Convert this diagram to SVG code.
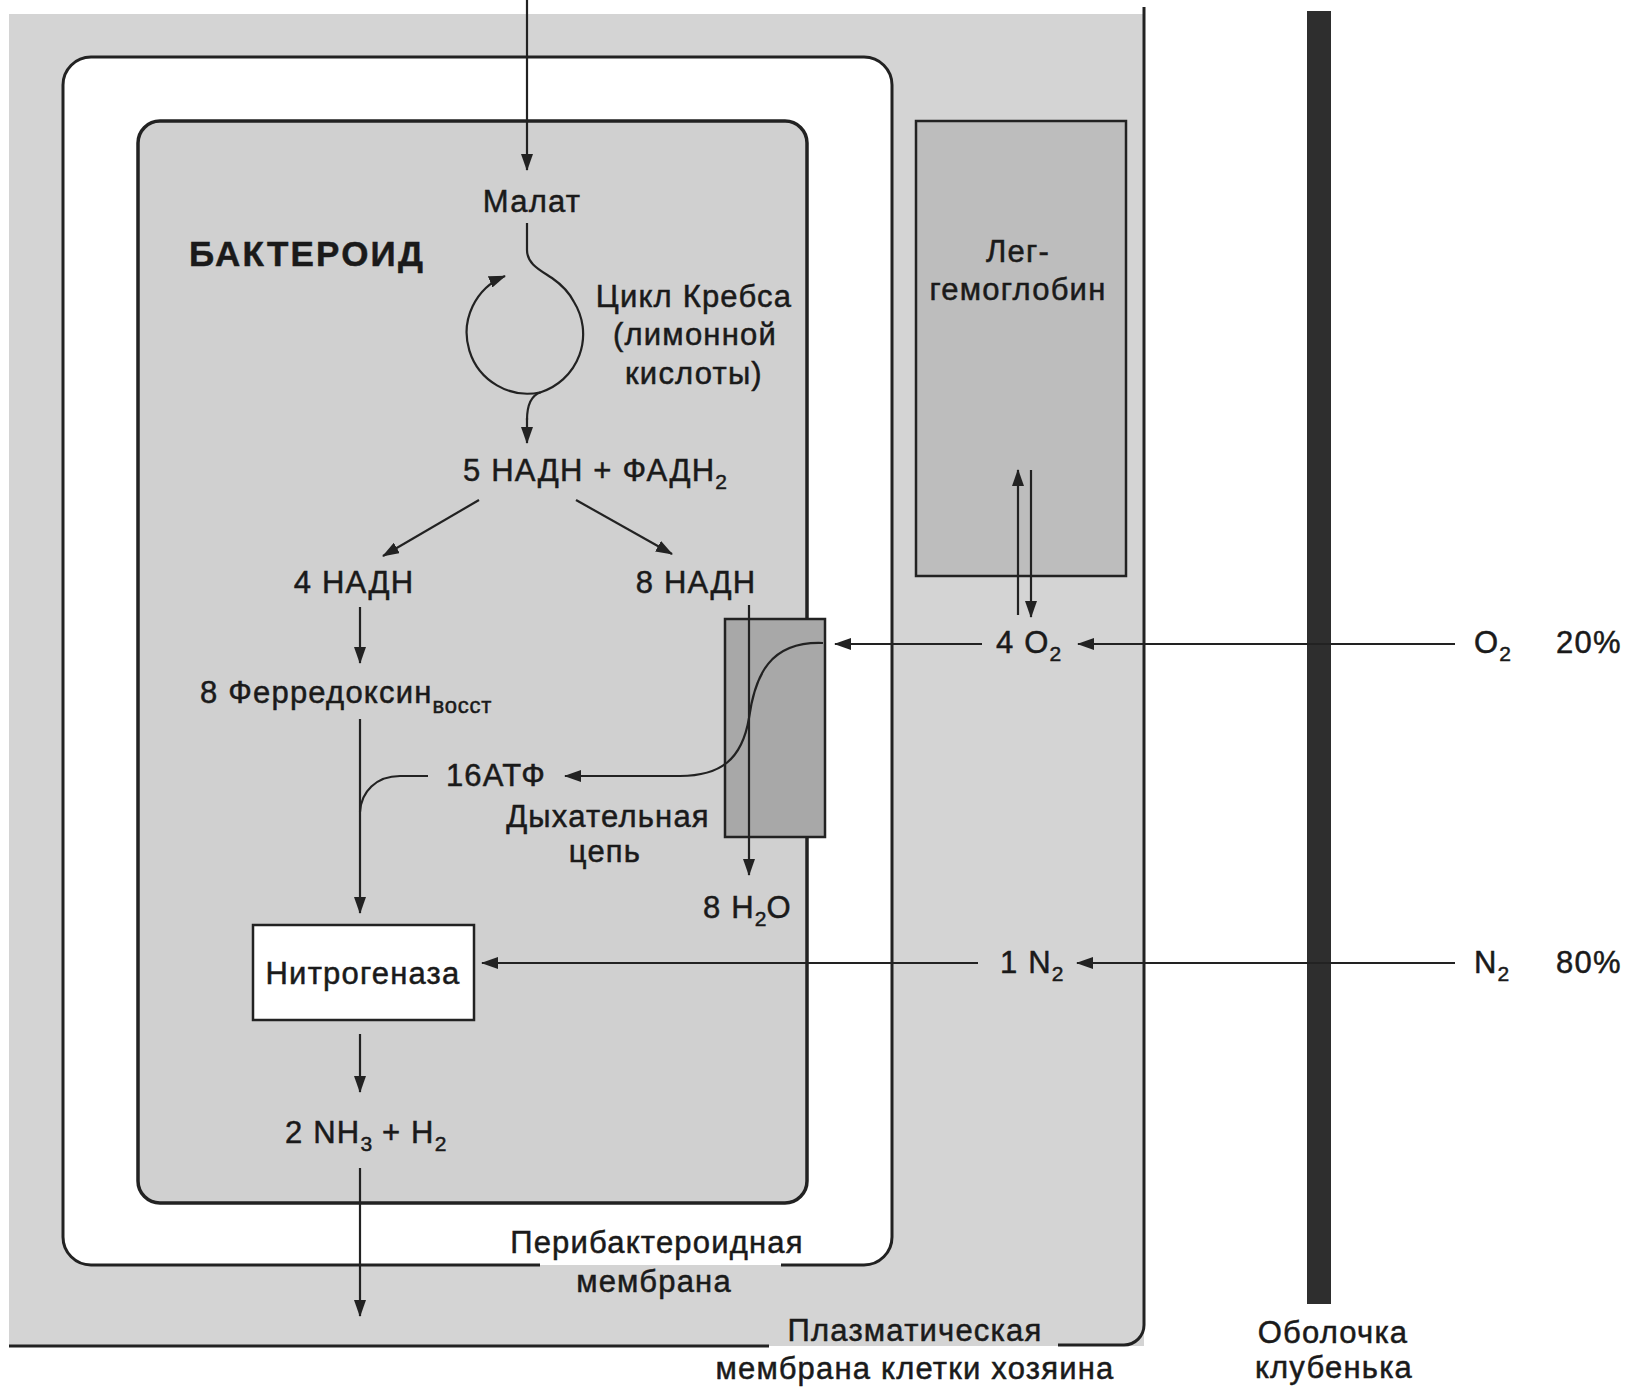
<svg xmlns="http://www.w3.org/2000/svg" width="1627" height="1391" viewBox="0 0 1627 1391">
<defs>
<style>
text{font-family:"Liberation Sans",Arial,sans-serif;font-size:31px;fill:#1a1a1a;stroke:#1a1a1a;stroke-width:0.5px;letter-spacing:1.2px}
.m{text-anchor:middle}
.b{font-weight:bold;font-size:35px;letter-spacing:2.2px}
.sub{font-size:21px;letter-spacing:0}
.vs{font-size:22px;letter-spacing:0.8px}
.ln{fill:none;stroke:#222;stroke-width:2.2}
.ar{fill:none;stroke:#222;stroke-width:2.2;marker-end:url(#ah)}
.box{stroke:#222;stroke-width:2.5}
</style>
<marker id="ah" markerUnits="userSpaceOnUse" markerWidth="17" markerHeight="12" viewBox="0 0 17 12" refX="16" refY="6" orient="auto">
<path d="M0,0 L17,6 L0,12 Z" fill="#222"/>
</marker>
</defs>
<rect width="1627" height="1391" fill="#ffffff"/>

<g id="host-cell">
<rect x="9" y="14" width="1135" height="1332" fill="#d4d4d4"/>
<path class="ln" d="M1144 7 V1325 A20 20 0 0 1 1124 1345 H1058" style="stroke-width:3"/>
<path class="ln" d="M769 1346 H9" style="stroke-width:3"/>
<text class="m" x="915" y="1341">Плазматическая</text>
<text class="m" x="915" y="1379">мембрана клетки хозяина</text>
</g>

<g id="peribacteroid">
<rect x="63" y="57" width="829" height="1208" rx="28" fill="#ffffff"/>
<path class="ln" style="stroke-width:3" d="M540 1265 H91 A28 28 0 0 1 63 1237 V85 A28 28 0 0 1 91 57 H864 A28 28 0 0 1 892 85 V1237 A28 28 0 0 1 864 1265 H781"/>
<text class="m" x="657" y="1253">Перибактероидная</text>
<text class="m" x="654" y="1292">мембрана</text>
</g>

<g id="bacteroid">
<rect x="138" y="121" width="669" height="1082" rx="22" fill="#d0d0d0" stroke="#222" stroke-width="3.5"/>
<text class="b" x="189" y="266">БАКТЕРОИД</text>
</g>

<g id="leghemoglobin">
<rect class="box" x="916" y="121" width="210" height="455" fill="#bdbdbd"/>
<text class="m" x="1018" y="262">Лег-</text>
<text class="m" x="1018" y="300">гемоглобин</text>
</g>

<g id="respiratory-chain">
<rect class="box" x="725" y="619" width="100" height="218" fill="#a8a8a8"/>
<text class="m" x="608" y="827">Дыхательная</text>
<text class="m" x="605" y="862">цепь</text>
</g>

<g id="nitrogenase">
<rect class="box" x="253" y="925" width="221" height="95" fill="#ffffff"/>
<text class="m" x="363" y="984">Нитрогеназа</text>
</g>

<g id="nodule-shell">
<rect x="1307" y="11" width="24" height="1293" fill="#2e2e2e"/>
<text class="m" x="1333" y="1343">Оболочка</text>
<text class="m" x="1334" y="1378">клубенька</text>
</g>

<g id="labels">
<text class="m" x="532" y="212">Малат</text>
<text class="m" x="694" y="307">Цикл Кребса</text>
<text class="m" x="695" y="345">(лимонной</text>
<text class="m" x="694" y="384">кислоты)</text>
<text x="463" y="481">5 НАДН + ФАДН<tspan class="sub" dy="8">2</tspan></text>
<text class="m" x="354" y="593">4 НАДН</text>
<text class="m" x="696" y="593">8 НАДН</text>
<text x="200" y="703">8 Ферредоксин<tspan class="vs" dy="10">восст</tspan></text>
<text class="m" x="496" y="786">16АТФ</text>
<text x="703" y="918">8 H<tspan class="sub" dy="8">2</tspan><tspan dy="-8">O</tspan></text>
<text x="285" y="1143">2 NH<tspan class="sub" dy="8">3</tspan><tspan dy="-8"> + H</tspan><tspan class="sub" dy="8">2</tspan></text>
<text x="996" y="653">4 O<tspan class="sub" dy="8">2</tspan></text>
<text x="1000" y="973">1 N<tspan class="sub" dy="8">2</tspan></text>
<text x="1474" y="653">O<tspan class="sub" dy="8">2</tspan></text>
<text x="1556" y="653">20%</text>
<text x="1474" y="973">N<tspan class="sub" dy="8">2</tspan></text>
<text x="1556" y="973">80%</text>
</g>

<g id="connectors">
<path class="ar" d="M527 0 V170"/>
<path class="ln" d="M527 223 V250 C527 264 540 270 552 278 C562 285 569 292 574 302 A61 61 0 0 1 540.8 392.2 C532 395 527 405 527 420"/>
<path class="ar" d="M527 418 V443"/>
<path class="ar" d="M540.8 392.2 A61 61 0 0 1 505 276"/>
<path class="ar" d="M479 500 L383 556"/>
<path class="ar" d="M576 500 L672 554"/>
<path class="ar" d="M360 607 V663"/>
<path class="ar" d="M360 719 V913"/>
<path class="ln" d="M428 776 H400 C376 776 361 792 360 812"/>
<path class="ar" d="M360 1034 V1092"/>
<path class="ar" d="M360 1168 V1316"/>
<path class="ar" d="M749 605 V875"/>
<path class="ar" d="M823 643 C770 641 755 675 749 718 C742 760 720 776 680 776 H565"/>
<path class="ar" d="M982 644 H835"/>
<path class="ar" d="M1455 644 H1078"/>
<path class="ar" d="M1018 615 V470"/>
<path class="ar" d="M1031 470 V617"/>
<path class="ar" d="M1455 963 H1077"/>
<path class="ar" d="M978 963 H482"/>
</g>
</svg>
